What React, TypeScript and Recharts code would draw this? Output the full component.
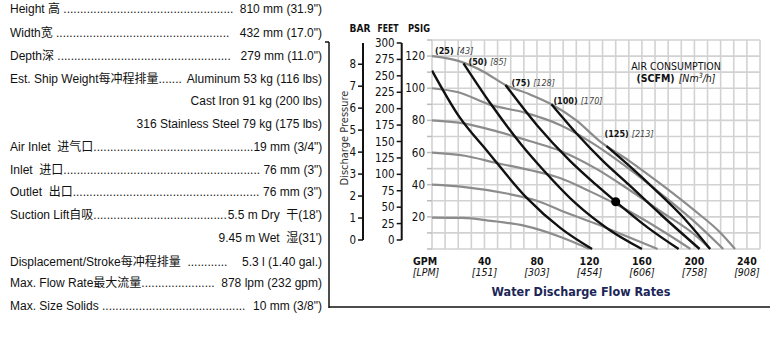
import React from "react"
import { LineChart, Line, XAxis, YAxis, CartesianGrid, ReferenceDot } from "recharts"

const narrow = "'DejaVu Sans Condensed', 'Liberation Sans Narrow', 'Noto Sans', sans-serif"
const arial = "'Liberation Sans', Arial, 'Noto Sans CJK SC', sans-serif"

// axis ticks
const gpmTicks = [0, 10, 20, 30, 40, 50, 60, 70, 80, 90, 100, 110, 120, 130, 140, 150, 160, 170, 180, 190, 200, 210, 220, 230, 240, 250]
const psiTicks = [0, 10, 20, 30, 40, 50, 60, 70, 80, 90, 100, 110, 120, 130]
const gpmLabels = [40, 80, 120, 160, 200, 240]
const lpmLabels = ["151", "303", "454", "606", "758", "908"]
const psiLabels = [20, 40, 60, 80, 100, 120]
const feetTicks = [0, 25, 50, 75, 100, 125, 150, 175, 200, 225, 250, 275, 300]
const barTicks = [0, 1, 2, 3, 4, 5, 6, 7, 8]

// discharge pressure curves at air inlet pressure (gpm, psig)
const psi120 = [[0, 120], [20, 117], [40, 110], [56, 102], [75, 96], [91, 90], [110, 80], [128, 67], [150, 55], [175, 40], [200, 24], [220, 10], [231, 0]]
const psi100 = [[0, 100], [20, 97.5], [45, 89.5], [70, 85], [98, 77], [122, 66], [150, 50], [175, 34], [200, 17], [222, 0]]
const psi80 = [[0, 80], [25, 78], [50, 73], [75, 67], [98, 61], [125, 50], [150, 37], [175, 23], [200, 9], [212, 0]]
const psi60 = [[0, 60], [25, 58], [49, 53.5], [75, 49], [98, 44], [120, 36], [140, 28], [160, 19], [180, 9], [197, 0]]
const psi40 = [[0, 40], [25, 38.5], [57, 34.5], [80, 30], [98, 24], [124, 16], [145, 9], [172, 0]]
const psi20 = [[0, 19.5], [23, 19.3], [45, 17.5], [70, 14.5], [98, 7.5], [120, 0]]

// air consumption lines (gpm, psig)
const scfm25 = [[0, 111], [21, 82], [42, 61], [72, 32], [98, 13], [122, 0]]
const scfm50 = [[24, 115.5], [45, 90], [68, 65], [85, 49], [110, 28], [135, 12], [160, 0]]
const scfm75 = [[56, 102], [80, 77], [105, 55], [125, 40], [140, 29.5], [165, 13], [188, 0]]
const scfm100 = [[91, 90], [110, 72], [130, 55], [150, 40], [175, 21], [204, 0]]
const scfm125 = [[133, 64], [150, 52], [170, 37], [190, 21], [212, 0]]
const scfmNames = ["(25)", "(50)", "(75)", "(100)", "(125)"]
const nm3Names = ["[43]", "[85]", "[128]", "[170]", "[213]"]

const examplePoint = { gpm: 140, psi: 29.4 }

const dots = (n: number) => ".".repeat(n)
const specRows = [
  { left: "Height 高 " + dots(51), right: " 810 mm (31.9\")", y: 9 },
  { left: "Width宽 " + dots(52), right: " 432 mm (17.0\")", y: 33 },
  { left: "Depth深 " + dots(52), right: " 279 mm (11.0\")", y: 56 },
  { left: "Est. Ship Weight每冲程排量.......", right: " Aluminum 53 kg (116 lbs)", y: 79 },
  { left: "", right: "Cast Iron 91 kg (200 lbs)", y: 101 },
  { left: "", right: "316 Stainless Steel 79 kg (175 lbs)", y: 124 },
  { left: "Air Inlet  进气口" + dots(48), right: "19 mm (3/4\")", y: 147 },
  { left: "Inlet  进口" + dots(59), right: " 76 mm (3\")", y: 170 },
  { left: "Outlet  出口" + dots(56), right: " 76 mm (3\")", y: 192 },
  { left: "Suction Lift自吸" + dots(40), right: "5.5 m Dry  干(18')", y: 215 },
  { left: "", right: "9.45 m Wet  湿(31')", y: 238 },
  { left: "Displacement/Stroke每冲程排量  ............", right: "5.3 l (1.40 gal.)", y: 262 },
  { left: "Max. Flow Rate最大流量" + dots(22), right: " 878 lpm (232 gpm)", y: 283 },
  { left: "Max. Size Solids " + dots(43), right: " 10 mm (3/8\")", y: 306 },
]

const toPts = (arr: number[][]) => arr.map(([gpm, psi]) => ({ gpm, psi }))
const feetPts = feetTicks.map((ft) => ({ gpm: 0, ft }))
const barPts = barTicks.map((bar) => ({ gpm: 0, bar }))

const grayCurves = [psi120, psi100, psi80, psi60, psi40, psi20]
const blackCurves = [scfm25, scfm50, scfm75, scfm100, scfm125]
const labelShift = [[3, -16.5], [5, 1.5], [6, 0.5], [2, -0.5], [-2, -9.5]]

const makeLabel = (i: number) => (props: any) => {
  if (props.index !== 0) return null
  const [dx, dy] = labelShift[i]
  return (
    <text x={props.x + dx} y={props.y + dy} fontFamily={narrow} fontSize={9} fill="#111">
      <tspan fontWeight="bold">{scfmNames[i]}</tspan>
      <tspan dx={3} fontStyle="italic" fill="#444">{nm3Names[i]}</tspan>
    </text>
  )
}

const GpmTick = ({ x, y, payload }: any) => {
  const v = payload.value
  if (v === 0) {
    return (
      <g fontFamily={narrow} fontSize={10.5} fill="#111">
        <text x={x - 7} y={y + 15.5} textAnchor="middle" fontWeight="bold">GPM</text>
        <text x={x - 6} y={y + 27} textAnchor="middle" fontStyle="italic">[LPM]</text>
      </g>
    )
  }
  const idx = gpmLabels.indexOf(v)
  if (idx < 0) return null
  return (
    <g fontFamily={narrow} fontSize={10.5} fill="#111">
      <text x={x} y={y + 15.5} textAnchor="middle" fontWeight="bold">{v}</text>
      <text x={x} y={y + 27} textAnchor="middle" fontStyle="italic">[{lpmLabels[idx]}]</text>
    </g>
  )
}

const PsiTick = ({ x, y, payload }: any) => {
  if (!psiLabels.includes(payload.value)) return null
  return (
    <text x={x} y={y + 4} textAnchor="end" fontFamily={narrow} fontSize={11.5} fill="#111">
      {payload.value}
    </text>
  )
}

const SideTick = ({ x, y, payload }: any) => (
  <text x={x} y={y + 4} textAnchor="end" fontFamily={narrow} fontSize={11.5} fill="#111">
    {payload.value}
  </text>
)

function SpecList() {
  return (
    <div style={{ position: "absolute", left: 0, top: 0, fontFamily: arial, fontSize: 12, color: "#111" }}>
      {specRows.map((r, i) => (
        <div
          key={i}
          style={{
            position: "absolute",
            left: 10,
            top: r.y - 8,
            width: 312,
            display: "flex",
            justifyContent: r.left ? "space-between" : "flex-end",
            whiteSpace: "pre",
            lineHeight: "16px",
          }}
        >
          {r.left && <span>{r.left}</span>}
          <span>{r.right}</span>
        </div>
      ))}
    </div>
  )
}

export default function App() {
  return (
    <div style={{ position: "absolute", left: 0, top: 0, width: 778, height: 338, background: "#fff" }}>
      <SpecList />

      {/* BAR / FEET scales */}
      <LineChart
        width={778}
        height={338}
        margin={{ top: 43, right: 0, bottom: 98, left: 0 }}
        style={{ position: "absolute", left: 0, top: 0 }}
      >
        <XAxis dataKey="gpm" type="number" hide />
        <YAxis yAxisId="a-feet" type="number" domain={[0, 300]} ticks={feetTicks} width={38.7}
          axisLine={{ stroke: "#111", strokeWidth: 2 }} tickLine={{ stroke: "#111", strokeWidth: 1.5 }}
          tickSize={5} tick={<SideTick />} interval={0} />
        <YAxis yAxisId="b-bar" type="number" domain={[0, 300 / 33.46]} ticks={barTicks} width={363}
          axisLine={{ stroke: "#111", strokeWidth: 2 }} tickLine={{ stroke: "#111", strokeWidth: 1.5 }}
          tickSize={5} tick={<SideTick />} interval={0} />
        <Line yAxisId="a-feet" data={feetPts} dataKey="ft" stroke="none" dot={false} isAnimationActive={false} />
        <Line yAxisId="b-bar" data={barPts} dataKey="bar" stroke="none" dot={false} isAnimationActive={false} />
      </LineChart>

      {/* performance curves */}
      <LineChart
        width={778}
        height={338}
        margin={{ top: 40, right: 18, bottom: 29, left: 402 }}
        style={{ position: "absolute", left: 0, top: 0 }}
      >
        <CartesianGrid stroke="#d2d2d2" strokeWidth={1.6} />
        <XAxis dataKey="gpm" type="number" domain={[0, 250]} ticks={gpmTicks} interval={0}
          axisLine={false} tickLine={false} tickSize={0} tickMargin={0} height={60} tick={<GpmTick />}
          allowDuplicatedCategory={false} />
        <YAxis dataKey="psi" type="number" domain={[0, 130]} ticks={psiTicks} interval={0} width={30}
          axisLine={false} tickLine={{ stroke: "#bbb", strokeWidth: 1.5 }} tickSize={5} tick={<PsiTick />} />
        {grayCurves.map((c, i) => (
          <Line key={"g" + i} data={toPts(c)} dataKey="psi" type="monotone" stroke="#8c8c8c"
            strokeWidth={2.2} dot={false} isAnimationActive={false} />
        ))}
        {blackCurves.map((c, i) => (
          <Line key={"b" + i} data={toPts(c)} dataKey="psi" type="monotone" stroke="#111"
            strokeWidth={2.4} dot={false} isAnimationActive={false} label={makeLabel(i)} />
        ))}
        <ReferenceDot x={examplePoint.gpm} y={examplePoint.psi} r={4.5} fill="#000" stroke="none" />
      </LineChart>

      <svg width={778} height={338} style={{ position: "absolute", left: 0, top: 0, pointerEvents: "none" }}>
        <line x1={329} y1={42} x2={329} y2={308} stroke="#111" strokeWidth={1.5} />
        <line x1={325} y1={42} x2={329} y2={42} stroke="#111" strokeWidth={1.5} />
        <line x1={329} y1={307} x2={770} y2={307} stroke="#111" strokeWidth={1.5} />
        <g fontFamily={narrow} fontWeight="bold" fontSize={11} fill="#111" textAnchor="middle">
          <text x={360} y={32} textLength={21} lengthAdjust="spacingAndGlyphs">BAR</text>
          <text x={388} y={32} textLength={21} lengthAdjust="spacingAndGlyphs">FEET</text>
          <text x={419} y={32} textLength={22} lengthAdjust="spacingAndGlyphs">PSIG</text>
        </g>
        <text transform="translate(348,138) rotate(-90)" textAnchor="middle" fontFamily={narrow} fontSize={11} fill="#333">
          Discharge Pressure
        </text>
        <text x={676} y={70} textAnchor="middle" fontFamily={narrow} fontSize={10.5} fill="#111">AIR CONSUMPTION</text>
        <text x={676} y={82} textAnchor="middle" fontFamily={narrow} fontSize={10.5} fill="#111">
          <tspan fontWeight="bold">(SCFM)</tspan>
          <tspan dx={4} fontStyle="italic">[Nm</tspan>
          <tspan fontStyle="italic" fontSize={7} dy={-4}>3</tspan>
          <tspan fontStyle="italic" dy={4}>/h]</tspan>
        </text>
        <text x={581} y={296} textAnchor="middle" fontFamily={narrow} fontWeight="bold" fontSize={12.5} fill="#1b2657">
          Water Discharge Flow Rates
        </text>
      </svg>
    </div>
  )
}
